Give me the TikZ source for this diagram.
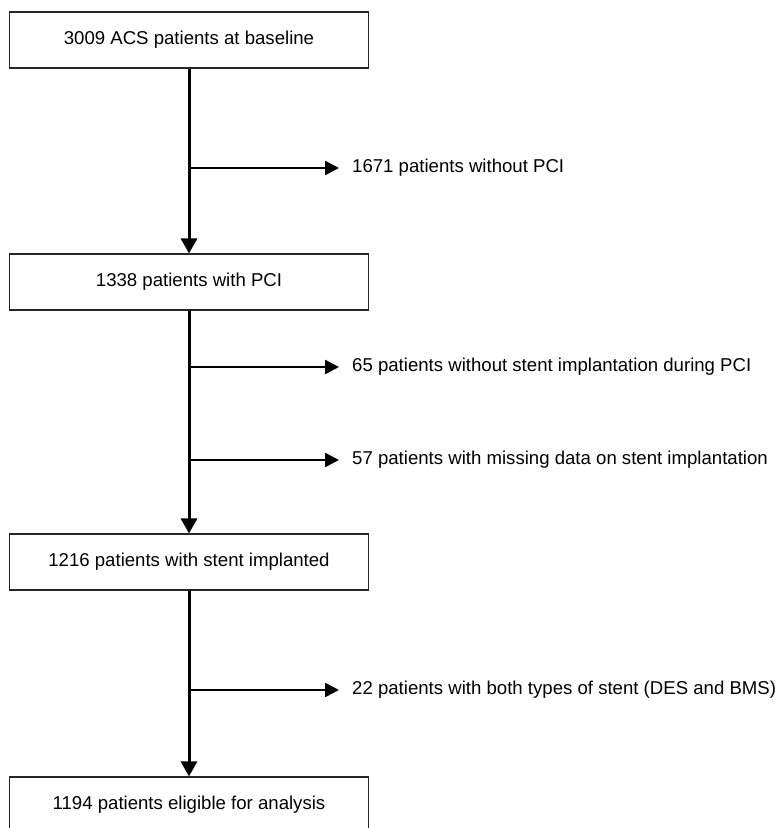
\documentclass[tikz,border=0pt]{standalone}
\usepackage{fontspec}
\setmainfont{Liberation Sans}
\usetikzlibrary{arrows.meta}
\tikzset{
  box/.style={draw=black!85, line width=1.1pt, minimum width=359pt, minimum height=56pt, inner sep=0pt},
  flow/.style={line width=3pt, -{Triangle[length=15pt,width=16pt]}},
  branch/.style={line width=2.5pt, -{Triangle[length=14pt,width=14pt]}, shorten >=-1pt},
  note/.style={anchor=west, inner sep=0pt}
}

\begin{document}
\begin{tikzpicture}[x=1pt, y=-1pt, font=\fontsize{18.6}{22}\selectfont]
	%%%%% START %%%%%
	
	\useasboundingbox (0, 0) rectangle (780, 828);
	
	\node[box] (b1) at (189, 40) {3009 ACS patients at baseline};
	\node[box] (b2) at (189, 282) {1338 patients with PCI};
	\node[box] (b3) at (189, 562) {1216 patients with stent implanted};
	\node[box] (b4) at (189, 805) {1194 patients eligible for analysis};
	
	\coordinate (j1) at (189, 168);
	\coordinate (j2) at (189, 367);
	\coordinate (j3) at (189, 460);
	\coordinate (j4) at (189, 690);
	
	\node[note] (e1) at (352, 168) {1671 patients without PCI};
	\node[note] (e2) at (352, 367) {65 patients without stent implantation during PCI};
	\node[note] (e3) at (352, 460) {57 patients with missing data on stent implantation};
	\node[note] (e4) at (352, 690) {22 patients with both types of stent (DES and BMS)};
	
	\draw[flow] (b1) -- (b2);
	\draw[flow] (b2) -- (b3);
	\draw[flow] (b3) -- (b4);
	
	\draw[branch] (j1) -- ([xshift=-14pt]e1.west);
	\draw[branch] (j2) -- ([xshift=-14pt]e2.west);
	\draw[branch] (j3) -- ([xshift=-14pt]e3.west);
	\draw[branch] (j4) -- ([xshift=-14pt]e4.west);
	
	%%%%% END %%%%%
\end{tikzpicture}
\end{document}
